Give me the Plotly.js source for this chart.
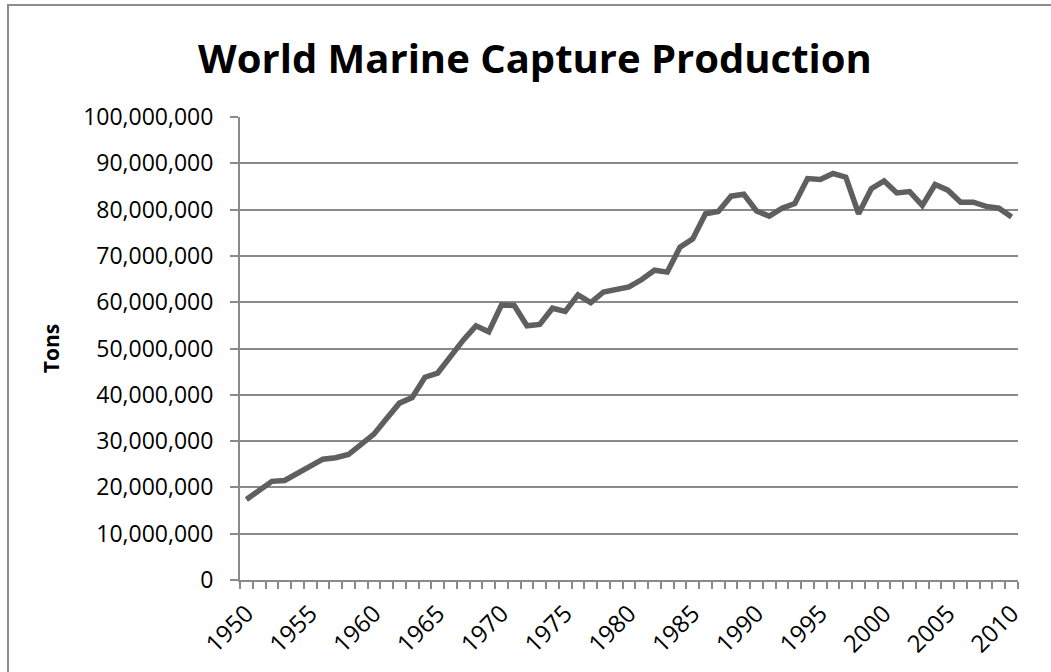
<!DOCTYPE html>
<html>
<head>
<meta charset="utf-8">
<script src="https://cdn.plot.ly/plotly-3.0.1.min.js"></script>
<style>
  html, body { margin: 0; padding: 0; background: #ffffff; }
  #wrap { position: relative; width: 1051px; height: 672px; overflow: hidden; }
  #frame { position: absolute; left: 7px; top: 4px; width: 1100px; height: 700px;
           border-left: 2px solid #8c8c8c; border-top: 2px solid #8c8c8c; pointer-events: none; }
  #chart { position: absolute; left: 0; top: 0; width: 1051px; height: 672px; }
</style>
</head>
<body>
<div id="wrap">
  <div id="chart"></div>
  <div id="frame"></div>
</div>
<script>
// World marine capture production, tons per year
const years = [
  1950, 1951, 1952, 1953, 1954, 1955, 1956, 1957, 1958, 1959,
  1960, 1961, 1962, 1963, 1964, 1965, 1966, 1967, 1968, 1969,
  1970, 1971, 1972, 1973, 1974, 1975, 1976, 1977, 1978, 1979,
  1980, 1981, 1982, 1983, 1984, 1985, 1986, 1987, 1988, 1989,
  1990, 1991, 1992, 1993, 1994, 1995, 1996, 1997, 1998, 1999,
  2000, 2001, 2002, 2003, 2004, 2005, 2006, 2007, 2008, 2009,
  2010
];
const tons = [
  17400000, 19500000, 21300000, 21500000, 23100000, 24600000, 26100000, 26400000, 27100000, 29300000,
  31500000, 34900000, 38200000, 39400000, 43800000, 44700000, 48300000, 51800000, 54900000, 53600000,
  59400000, 59300000, 54900000, 55200000, 58700000, 58000000, 61600000, 59900000, 62200000, 62800000,
  63300000, 64900000, 66900000, 66500000, 71900000, 73700000, 79100000, 79600000, 82900000, 83300000,
  79700000, 78600000, 80300000, 81300000, 86700000, 86500000, 87800000, 87000000, 79100000, 84500000,
  86200000, 83600000, 83900000, 80900000, 85400000, 84200000, 81600000, 81600000, 80700000, 80300000,
  78400000
];
const labelYears = [1950, 1955, 1960, 1965, 1970, 1975, 1980, 1985, 1990, 1995, 2000, 2005, 2010];

const FONT = '"Open Sans", "Noto Sans", sans-serif';
const GRID = '#8a8a8a';

const trace = {
  type: 'scatter',
  mode: 'lines',
  x: years,
  y: tons,
  line: { color: '#5f5f5f', width: 5.5 },
  hoverinfo: 'x+y'
};

const layout = {
  width: 1051,
  height: 672,
  margin: { l: 240, r: 33, t: 117, b: 92, pad: 0 },
  paper_bgcolor: '#ffffff',
  plot_bgcolor: '#ffffff',
  showlegend: false,
  font: { family: FONT, color: '#000000', size: 23 },
  title: {
    text: '<b>World Marine Capture Production</b>',
    font: { family: FONT, size: 40, color: '#000000' },
    x: 0.509, xanchor: 'center',
    y: 0.912, yanchor: 'middle'
  },
  xaxis: {
    range: [1949.5, 2010.5],
    tickmode: 'array',
    tickvals: labelYears,
    ticktext: labelYears.map(String),
    tickangle: -45,
    ticks: '',
    ticklabelstandoff: 8,
    showgrid: false,
    zeroline: false,
    showline: true,
    linecolor: GRID,
    linewidth: 2,
    tickfont: { family: FONT, size: 24, color: '#000000' },
    minor: {
      tickmode: 'linear',
      tick0: 1949.5,
      dtick: 1,
      ticks: 'outside',
      ticklen: 7,
      tickwidth: 2,
      tickcolor: GRID,
      showgrid: false
    }
  },
  yaxis: {
    range: [0, 100000000],
    dtick: 10000000,
    tick0: 0,
    tickformat: ',d',
    ticks: 'outside',
    ticklen: 8,
    tickwidth: 2,
    tickcolor: GRID,
    ticklabelstandoff: 12,
    showgrid: true,
    gridcolor: GRID,
    gridwidth: 2,
    zeroline: false,
    showline: true,
    linecolor: GRID,
    linewidth: 2,
    tickfont: { family: FONT, size: 23, color: '#000000' },
    title: {
      text: '<b>Tons</b>',
      font: { family: FONT, size: 21, color: '#000000' },
      standoff: 18
    }
  }
};

Plotly.newPlot('chart', [trace], layout, { displayModeBar: false, staticPlot: true });
</script>
</body>
</html>
